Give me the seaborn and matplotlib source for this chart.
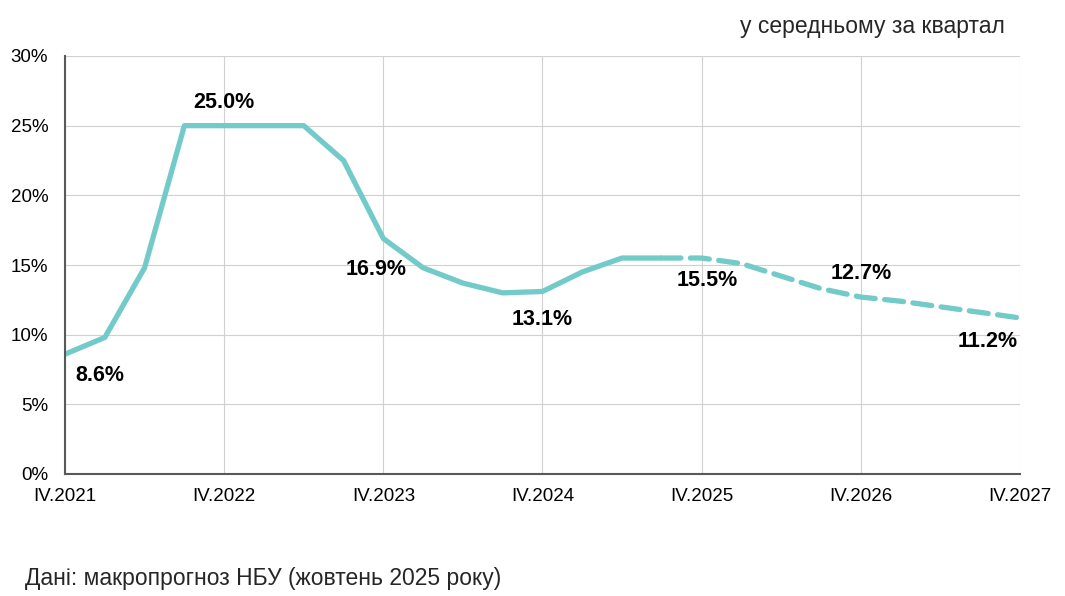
import numpy as np
import pandas as pd
import matplotlib
matplotlib.use("Agg")
import matplotlib.pyplot as plt
import seaborn as sns

# quarterly data, IV.2021 .. IV.2027
quarters = [
    "IV.2021",
    "I.2022", "II.2022", "III.2022", "IV.2022",
    "I.2023", "II.2023", "III.2023", "IV.2023",
    "I.2024", "II.2024", "III.2024", "IV.2024",
    "I.2025", "II.2025", "III.2025", "IV.2025",
    "I.2026", "II.2026", "III.2026", "IV.2026",
    "I.2027", "II.2027", "III.2027", "IV.2027",
]
rate = [
    8.6,
    9.8, 14.8, 25.0, 25.0,
    25.0, 25.0, 22.5, 16.9,
    14.8, 13.7, 13.0, 13.1,
    14.5, 15.5, 15.5, 15.5,
    15.1, 14.2, 13.3, 12.7,
    12.4, 12.0, 11.6, 11.2,
]
last_actual = "III.2025"   # forecast (dashed) starts here

tick_labels = ["IV.2021", "IV.2022", "IV.2023", "IV.2024", "IV.2025", "IV.2026", "IV.2027"]
label_quarters = ["IV.2021", "IV.2022", "IV.2023", "IV.2024", "IV.2025", "IV.2026", "IV.2027"]
label_text = ["8.6%", "25.0%", "16.9%", "13.1%", "15.5%", "12.7%", "11.2%"]
label_offsets = [(25, -15), (0, 17), (-5, -22), (0, -20), (4, -16), (0, 17), (-23, -17)]

title = "у середньому за квартал"
source = "Дані: макропрогноз НБУ (жовтень 2025 року)"

LINE = "#72CBC8"
AXIS = "#595959"

df = pd.DataFrame({"q": quarters, "rate": rate})
df["x"] = np.arange(len(df))
split = quarters.index(last_actual)
fact = df.iloc[: split + 1]
fcst = df.iloc[split:]

sns.set_style("white")
plt.rcParams["font.family"] = ["Liberation Sans", "DejaVu Sans"]

fig = plt.figure(figsize=(10.65, 5.96), dpi=100)
ax = fig.add_axes([65 / 1065, 1 - 474 / 596, (1020 - 65) / 1065, (474 - 56) / 596])

sns.lineplot(data=fact, x="x", y="rate", ax=ax, color=LINE, lw=3.8,
             solid_capstyle="butt")
sns.lineplot(data=fcst, x="x", y="rate", ax=ax, color=LINE, lw=3.8,
             dashes=False)
ax.lines[-1].set_linestyle((0, (3.6, 1.8)))
ax.lines[-1].set_dash_capstyle("round")

for q, txt, off in zip(label_quarters, label_text, label_offsets):
    i = quarters.index(q)
    ax.annotate(txt, xy=(i, rate[i]), xytext=off, textcoords="offset points",
                ha="center", va="center", fontsize=15.5, fontweight="bold",
                color="black")

ax.set_xlim(0, len(quarters) - 1)
ax.set_ylim(0, 30)
ax.set_xticks([quarters.index(t) for t in tick_labels])
ax.set_xticklabels(tick_labels, fontsize=13.5)
ax.set_yticks(range(0, 31, 5))
ax.set_yticklabels([f"{v}%" for v in range(0, 31, 5)], fontsize=13.5)
ax.set_xlabel("")
ax.set_ylabel("")

ax.grid(True, color="#D0D0D0", lw=0.8)
for s in ["top", "right"]:
    ax.spines[s].set_visible(False)
for s in ["left", "bottom"]:
    ax.spines[s].set_color(AXIS)
    ax.spines[s].set_linewidth(1.5)
ax.tick_params(axis="both", length=4, width=1.2, color=AXIS, colors="black")
ax.tick_params(axis="x", pad=6)
ax.tick_params(axis="y", pad=8)

fig.text(1005 / 1065, 1 - 27 / 596, title, ha="right", va="center", fontsize=16.5)
fig.text(25 / 1065, 1 - 579 / 596, source, ha="left", va="center", fontsize=16.5)

fig.savefig("out.png", dpi=100)
